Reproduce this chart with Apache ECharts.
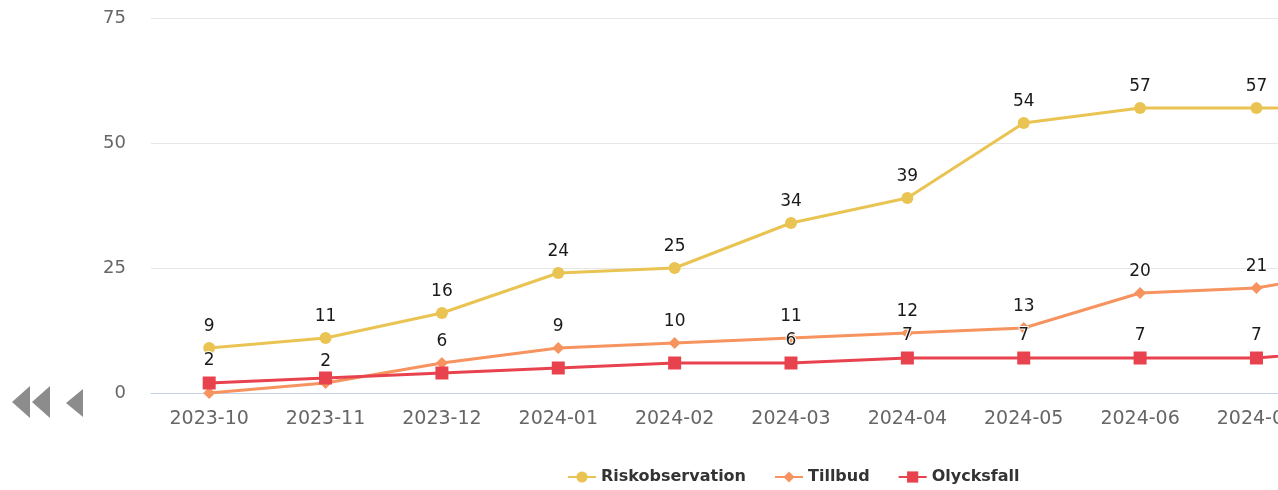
<!DOCTYPE html>
<html>
<head>
<meta charset="utf-8">
<script src="https://cdn.jsdelivr.net/npm/echarts@6/dist/echarts.min.js"></script>
<style>
  html, body { margin: 0; padding: 0; background: #fff; }
  #chart { width: 1278px; height: 490px; }
</style>
</head>
<body>
<div id="chart"></div>
<script>
  // månader (sista kategorin ligger utanför bild)
  const months = ['2023-10', '2023-11', '2023-12', '2024-01', '2024-02', '2024-03', '2024-04', '2024-05', '2024-06', '2024-07', '2024-08'];
  const riskobservation = [9, 11, 16, 24, 25, 34, 39, 54, 57, 57, 57];
  const tillbud = [0, 2, 6, 9, 10, 11, 12, 13, 20, 21, 25];
  const olycksfall = [2, 3, 4, 5, 6, 6, 7, 7, 7, 7, 9];
  const yTicks = [0, 25, 50, 75];

  // etiketter som döljs pga överlapp
  const hiddenLabels = {
    Riskobservation: [],
    Tillbud: [0],
    Olycksfall: [1, 2, 3, 4]
  };

  const font = '"DejaVu Sans", Verdana, sans-serif';

  const makeSeries = (name, data, color, symbol, size) => ({
    name,
    type: 'line',
    data,
    symbol,
    symbolSize: size,
    lineStyle: { color, width: 3 },
    itemStyle: { color },
    label: {
      show: true,
      position: 'top',
      distance: 7,
      color: '#1a1a1a',
      fontFamily: font,
      fontSize: 17,
      textBorderColor: '#fff',
      textBorderWidth: 2,
      formatter: p => hiddenLabels[name].includes(p.dataIndex) ? '' : String(p.value)
    }
  });

  const chart = echarts.init(document.getElementById('chart'));

  chart.setOption({
    animation: false,
    grid: { left: 151, top: 18, width: 1280, bottom: 97, outerBoundsMode: 'none' },
    legend: {
      left: 562,
      top: 464,
      itemWidth: 28,
      itemHeight: 14,
      itemGap: 28,
      textStyle: { fontFamily: font, fontWeight: 'bold', fontSize: 16, color: '#333' },
      data: ['Riskobservation', 'Tillbud', 'Olycksfall']
    },
    xAxis: {
      type: 'category',
      data: months,
      boundaryGap: true,
      axisLine: { lineStyle: { color: '#c5d0e6', width: 1 } },
      axisTick: { show: false },
      axisLabel: { color: '#666', fontFamily: font, fontSize: 19, margin: 17, interval: 0 }
    },
    yAxis: {
      type: 'value',
      min: yTicks[0],
      max: yTicks[yTicks.length - 1],
      interval: 25,
      axisLine: { show: false },
      axisTick: { show: false },
      splitLine: { lineStyle: { color: '#e6e6e6', width: 1 } },
      axisLabel: { color: '#666', fontFamily: font, fontSize: 18, margin: 25 }
    },
    graphic: [
      { type: 'polygon', shape: { points: [[12, 402], [30, 386], [30, 418]] }, style: { fill: '#8c8c8c' } },
      { type: 'polygon', shape: { points: [[32, 402], [50, 386], [50, 418]] }, style: { fill: '#8c8c8c' } },
      { type: 'polygon', shape: { points: [[66, 403], [83, 389], [83, 417]] }, style: { fill: '#8c8c8c' } }
    ],
    series: [
      makeSeries('Riskobservation', riskobservation, '#eac453', 'circle', 12),
      makeSeries('Tillbud', tillbud, '#f6935f', 'diamond', 12),
      makeSeries('Olycksfall', olycksfall, '#e8424f', 'rect', 13)
    ]
  });
</script>
</body>
</html>
